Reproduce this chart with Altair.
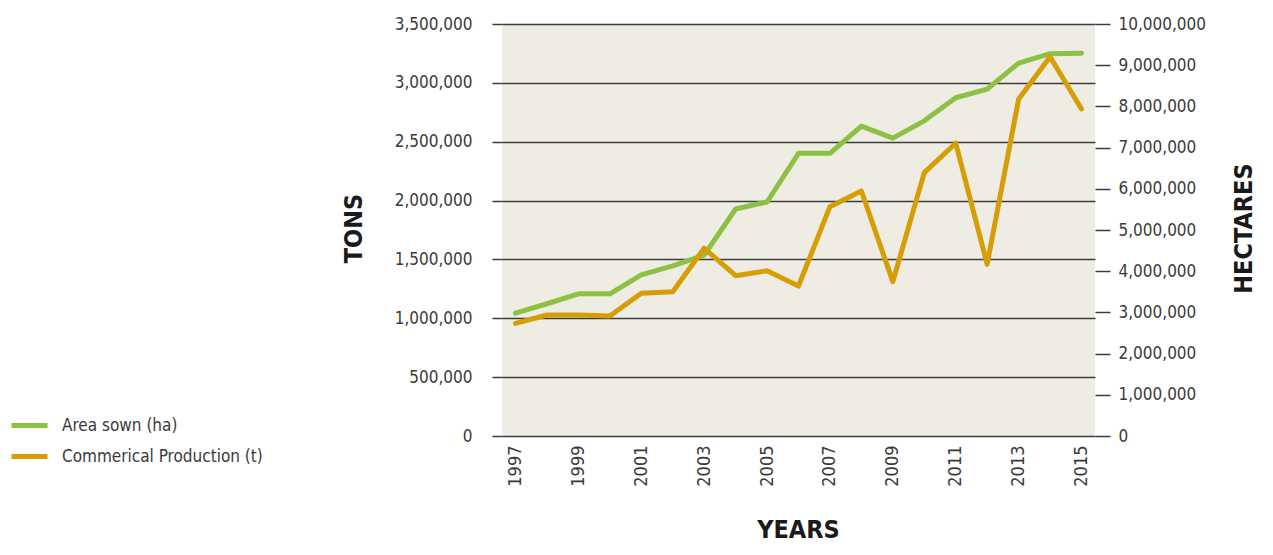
import altair as alt
import pandas as pd

years = list(range(1997, 2016))
area_sown_ha = [2980000, 3210000, 3450000, 3450000, 3910000, 4130000, 4390000,
                5510000, 5680000, 6860000, 6860000, 7520000, 7230000, 7650000,
                8210000, 8420000, 9050000, 9280000, 9290000]
production_t = [957000, 1028000, 1028000, 1019000, 1212000, 1226000, 1595000,
                1362000, 1404000, 1274000, 1948000, 2081000, 1311000, 2237000,
                2487000, 1459000, 2860000, 3222000, 2778000]
series_names = ["Area sown (ha)", "Commerical Production (t)"]
series_colors = ["#8DC143", "#D69E06"]
year_ticks = list(range(1997, 2016, 2))
tons_ticks = list(range(0, 3500001, 500000))
ha_ticks = list(range(0, 10000001, 1000000))

df = pd.DataFrame({
    "year": years * 2,
    "series": [series_names[0]] * len(years) + [series_names[1]] * len(years),
    "area": area_sown_ha + [None] * len(years),
    "prod": [None] * len(years) + production_t,
})

FONT = "DejaVu Sans Condensed, Roboto, sans-serif"
LABEL_COLOR = "#3a3a3a"
GRID = "#3c3c3c"

x_enc = alt.X(
    "year:Q",
    scale=alt.Scale(domain=[1996.57, 2015.43], nice=False, zero=False),
    axis=alt.Axis(
        values=year_ticks, format="d", labelAngle=270, domain=False, ticks=False,
        tickSize=0, grid=False, labelPadding=9, labelFont=FONT, labelFontSize=18,
        labelColor=LABEL_COLOR, title="YEARS", titleFont=FONT, titleFontSize=25,
        titleFontWeight="bold", titleColor="#1a1a1a", titleX=296, titleY=101,
        titleBaseline="alphabetic", titleAlign="center",
    ),
)

color_enc = alt.Color(
    "series:N",
    scale=alt.Scale(domain=series_names, range=series_colors),
    legend=alt.Legend(
        title=None, orient="none", legendX=-493, legendY=381, direction="vertical",
        symbolType="stroke", symbolSize=1296, symbolStrokeWidth=5,
        labelFont=FONT, labelFontSize=17, labelColor=LABEL_COLOR, labelOffset=12,
        labelLimit=400, rowPadding=-2, padding=0, offset=0,
    ),
)

green = alt.Chart(df).transform_filter(
    alt.datum.series == series_names[0]
).mark_line(strokeWidth=5, strokeCap="round", strokeJoin="round").encode(
    x=x_enc,
    y=alt.Y(
        "area:Q",
        scale=alt.Scale(domain=[0, 10000000], nice=False),
        axis=alt.Axis(
            orient="right", values=ha_ticks, format=",d", grid=False, domain=False,
            ticks=True, tickSize=15, tickColor=GRID, tickWidth=1.5, labelPadding=8,
            labelFont=FONT, labelFontSize=17, labelColor=LABEL_COLOR,
            title="HECTARES", titleFont=FONT, titleFontSize=25, titleFontWeight="bold",
            titleColor="#1a1a1a", titleAngle=270, titleX=148, titleY=204,
            titleAlign="center", titleBaseline="middle",
        ),
    ),
    color=color_enc,
)

orange = alt.Chart(df).transform_filter(
    alt.datum.series == series_names[1]
).mark_line(strokeWidth=5, strokeCap="round", strokeJoin="round").encode(
    x=x_enc,
    y=alt.Y(
        "prod:Q",
        scale=alt.Scale(domain=[0, 3500000], nice=False),
        axis=alt.Axis(
            orient="left", values=tons_ticks, format=",d", grid=True, gridColor=GRID,
            gridWidth=1.5, gridOpacity=1, domain=False, ticks=True, tickSize=10,
            tickColor=GRID, tickWidth=1.5, labelPadding=20, labelFont=FONT,
            labelFontSize=17, labelColor=LABEL_COLOR,
            title="TONS", titleFont=FONT, titleFontSize=25, titleFontWeight="bold",
            titleColor="#1a1a1a", titleAngle=270, titleX=-149, titleY=204,
            titleAlign="center", titleBaseline="middle",
        ),
    ),
    color=color_enc,
)

chart = alt.layer(green, orange).resolve_scale(y="independent").properties(
    width=593,
    height=412,
    autosize=alt.AutoSizeParams(type="none"),
    padding={"left": 494, "top": 16, "right": 168, "bottom": 111},
).configure_view(fill="#EFECE4", strokeWidth=0)

chart.save("out.html", embed_options={"renderer": "svg", "actions": False})
